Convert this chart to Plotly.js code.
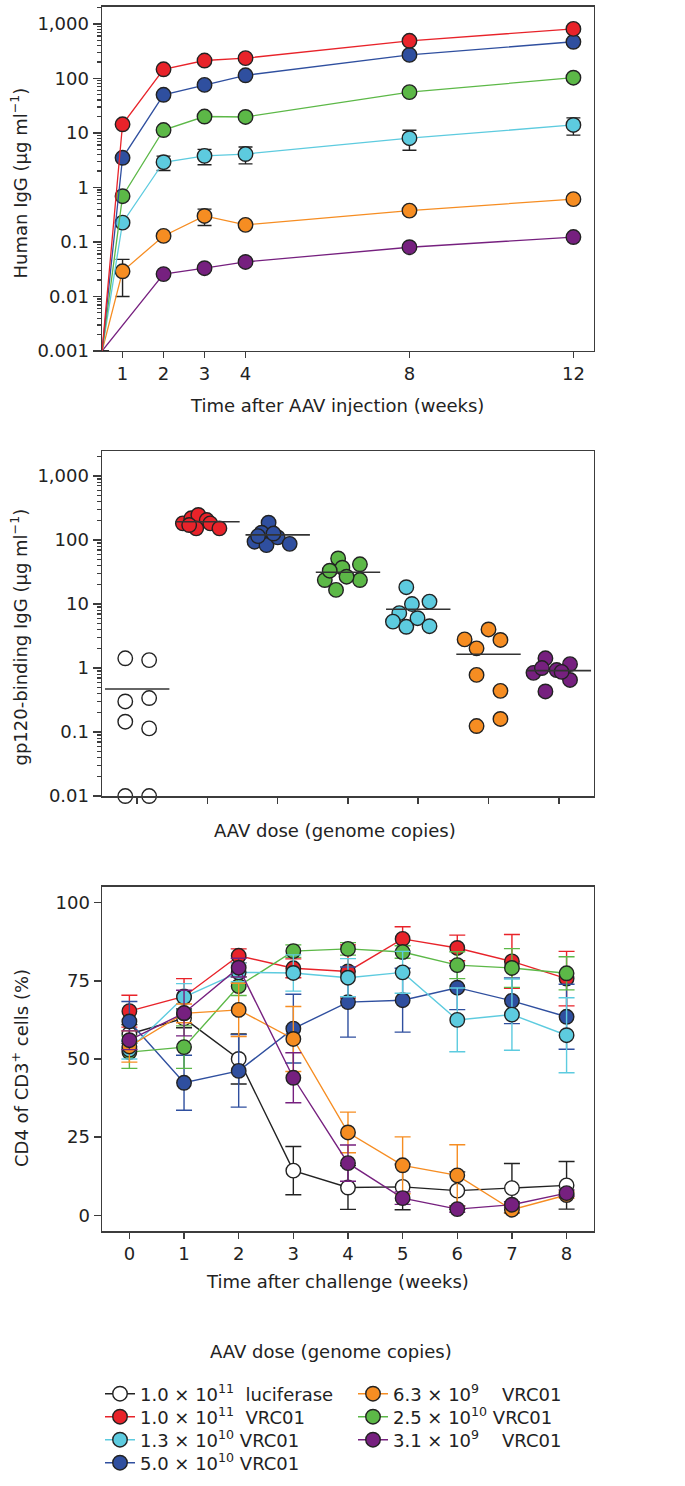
<!DOCTYPE html>
<html>
<head>
<meta charset="utf-8">
<script src="https://cdn.plot.ly/plotly-3.0.1.min.js"></script>
<style>
  body { margin: 0; background: #fff; }
  #chart { width: 685px; height: 1486px; }
</style>
</head>
<body>
<div id="chart"></div>
<script>

// Panel a: human IgG after AAV injection (weeks)
const igg_weeks = [0.5, 1, 2, 3, 4, 8, 12];
const igg_red = [0.001, 14.4, 147, 213, 235, 490, 809];
const igg_blue = [0.001, 3.5, 50, 76, 114, 270, 470];
const igg_green = [0.001, 0.69, 11.3, 20, 19.6, 56, 103];
const igg_cyan = [0.001, 0.226, 2.9, 3.8, 4.1, 8, 14];
const igg_orange = [0.001, 0.029, 0.129, 0.30, 0.206, 0.376, 0.61];
const igg_purple = [0.001, null, 0.0257, 0.033, 0.043, 0.080, 0.123];
const igg_cyan_err = [0, 0, 0.86, 1.2, 1.4, 3.2, 4.9];
const igg_orange_err = [0, 0.019, 0, 0.1, 0, 0, 0];

// Panel b: gp120-binding IgG per animal, with group means
const gp_groups = [0, 1, 2, 3, 4, 5, 6];
const gp_luc = [1.42, 1.33, 0.30, 0.34, 0.145, 0.114, 0.01, 0.01];
const gp_luc_jit = [-0.17, 0.17, -0.17, 0.17, -0.17, 0.17, -0.17, 0.17];
const gp_red = [182, 218, 246, 205, 152, 182, 152, 171];
const gp_red_jit = [-0.35, -0.23, -0.13, -0.01, -0.16, 0.04, 0.17, -0.26];
const gp_blue = [186, 130, 94, 83, 110, 87, 126, 115];
const gp_blue_jit = [-0.13, -0.23, -0.33, -0.16, 0.0, 0.17, -0.06, -0.28];
const gp_green = [23.7, 16.6, 51.5, 36.9, 41.7, 23.7, 26.7, 33.1];
const gp_green_jit = [-0.33, -0.17, -0.14, -0.08, 0.17, 0.17, -0.02, -0.26];
const gp_cyan = [18.3, 10, 10.9, 7.2, 5.3, 4.4, 6.0, 4.5];
const gp_cyan_jit = [-0.17, -0.09, 0.16, -0.27, -0.36, -0.17, -0.01, 0.16];
const gp_orange = [2.8, 2.03, 4.0, 2.74, 0.78, 0.44, 0.124, 0.16];
const gp_orange_jit = [-0.34, -0.17, 0, 0.17, -0.17, 0.17, -0.17, 0.17];
const gp_purple = [0.84, 1.42, 1.0, 0.93, 1.15, 0.65, 0.43, 0.87];
const gp_purple_jit = [-0.36, -0.19, -0.24, -0.03, 0.16, 0.16, -0.19, 0.04];
const gp_means = [0.47, 193, 120, 31.3, 8.3, 1.64, 0.91];

// Panel c: CD4 of CD3+ cells after challenge (weeks)
const cd4_weeks = [0, 1, 2, 3, 4, 5, 6, 7, 8];
const cd4_luc = [58, 63, 50, 14.3, 8.9, 9.1, 7.9, 8.7, 9.6];
const cd4_red = [65.3, 70, 83, 79, 78, 88.4, 85.5, 81.2, 75.7];
const cd4_cyan = [53, 69.8, 77.7, 77.5, 76, 77.7, 62.5, 64.2, 57.6];
const cd4_blue = [62, 42.4, 46.2, 59.7, 68.2, 68.8, 72.8, 68.6, 63.5];
const cd4_orange = [54, 64.6, 65.7, 56.4, 26.5, 16, 12.8, 1.8, 6.5];
const cd4_green = [52.2, 53.8, 73.3, 84.5, 85.2, 84.2, 80, 79.1, 77.4];
const cd4_purple = [56, 64.7, 79.2, 44, 16.7, 5.5, 2, 3.4, 7.1];
const cd4_luc_err = [3, 3, 8, 7.7, 7, 7.3, 6, 7.9, 7.6];
const cd4_red_err = [5.1, 5.7, 2.2, 3, 8.5, 3.9, 4.1, 8.6, 8.7];
const cd4_cyan_err = [3, 4.3, 3, 5.8, 6.1, 6.7, 10.2, 11.4, 12];
const cd4_blue_err = [6.4, 8.8, 11.6, 11, 11.2, 10.2, 7, 7.3, 10.4];
const cd4_orange_err = [5, 3, 8.5, 10.4, 6.5, 9.1, 9.8, 1, 1];
const cd4_green_err = [5.2, 6.8, 3, 2, 2, 2, 4.3, 6.2, 5.3];
const cd4_purple_err = [3, 7.3, 3, 8, 5.8, 2, 1, 1, 1];

// Legend labels
const lbl_luc = "1.0 \u00d7 10<sup>11</sup>\u00a0\u00a0luciferase";
const lbl_red = "1.0 \u00d7 10<sup>11</sup>\u00a0\u00a0VRC01";
const lbl_cyan = "1.3 \u00d7 10<sup>10</sup>\u00a0VRC01";
const lbl_blue = "5.0 \u00d7 10<sup>10</sup>\u00a0VRC01";
const lbl_orange = "6.3 \u00d7 10<sup>9</sup>\u00a0\u00a0\u00a0\u00a0VRC01";
const lbl_green = "2.5 \u00d7 10<sup>10</sup>\u00a0VRC01";
const lbl_purple = "3.1 \u00d7 10<sup>9</sup>\u00a0\u00a0\u00a0\u00a0VRC01";

// Colours
const c_red = "#e8232a";
const c_blue = "#2f4f9f";
const c_green = "#5cb847";
const c_cyan = "#5dcbdf";
const c_orange = "#f68d22";
const c_purple = "#76207f";
const c_black = "#222222";
const c_axis = "#3c3c3c";
const FONT = "DejaVu Sans";
const MSIZE = 14.5;

// ---------- panel a traces ----------
function iggTrace(y, col, err) {
  let sizes = y.map((v, i) => (i == 0 || v === null) ? 0 : MSIZE);
  let t = {
    x: igg_weeks, y: y,
    xaxis: "x", yaxis: "y",
    type: "scatter", mode: "lines+markers",
    connectgaps: true,
    line: {color: col, width: 1.3},
    marker: {color: col, size: sizes, opacity: 1, line: {color: c_black, width: 1.4}},
    showlegend: false,
    hoverinfo: "x+y"
  };
  if (err !== undefined) {
    t.error_y = {type: "data", array: err, color: c_black, thickness: 1.4, width: 7};
  }
  return t;
}

let traces_a = [
  iggTrace(igg_purple, c_purple),
  iggTrace(igg_orange, c_orange, igg_orange_err),
  iggTrace(igg_cyan, c_cyan, igg_cyan_err),
  iggTrace(igg_green, c_green),
  iggTrace(igg_blue, c_blue),
  iggTrace(igg_red, c_red)
];

// ---------- panel b traces ----------
function gpTrace(group, vals, jit, fill) {
  return {
    x: jit.map(j => gp_groups[group] + j),
    y: vals,
    xaxis: "x2", yaxis: "y2",
    type: "scatter", mode: "markers",
    cliponaxis: false,
    marker: {color: fill, size: MSIZE, opacity: 1, line: {color: c_black, width: 1.4}},
    showlegend: false,
    hoverinfo: "y"
  };
}

let traces_b = [
  gpTrace(0, gp_luc, gp_luc_jit, "#ffffff"),
  gpTrace(1, gp_red, gp_red_jit, c_red),
  gpTrace(2, gp_blue, gp_blue_jit, c_blue),
  gpTrace(3, gp_green, gp_green_jit, c_green),
  gpTrace(4, gp_cyan, gp_cyan_jit, c_cyan),
  gpTrace(5, gp_orange, gp_orange_jit, c_orange),
  gpTrace(6, gp_purple, gp_purple_jit, c_purple),
  {
    x: gp_groups, y: gp_means,
    xaxis: "x2", yaxis: "y2",
    type: "scatter", mode: "markers",
    cliponaxis: false,
    marker: {symbol: "line-ew", size: 46, color: "#333333", line: {color: "#333333", width: 1.6}},
    showlegend: false,
    hoverinfo: "y"
  }
];

// ---------- panel c traces ----------
// each series gets its own one-row legend so rows sit where the reference has them
function cd4Trace(y, err, col, fill, name, legend) {
  return {
    x: cd4_weeks, y: y,
    xaxis: "x3", yaxis: "y3",
    type: "scatter", mode: "lines+markers",
    name: name,
    legend: legend,
    line: {color: col, width: 1.4},
    marker: {color: fill, size: MSIZE, opacity: 1, line: {color: c_black, width: 1.4}},
    error_y: {type: "data", array: err, color: col, thickness: 1.4, width: 8},
    hoverinfo: "x+y"
  };
}

let traces_c = [
  cd4Trace(cd4_luc, cd4_luc_err, c_black, "#ffffff", lbl_luc, "legend"),
  cd4Trace(cd4_red, cd4_red_err, c_red, c_red, lbl_red, "legend2"),
  cd4Trace(cd4_blue, cd4_blue_err, c_blue, c_blue, lbl_blue, "legend4"),
  cd4Trace(cd4_green, cd4_green_err, c_green, c_green, lbl_green, "legend6"),
  cd4Trace(cd4_cyan, cd4_cyan_err, c_cyan, c_cyan, lbl_cyan, "legend3"),
  cd4Trace(cd4_orange, cd4_orange_err, c_orange, c_orange, lbl_orange, "legend5"),
  cd4Trace(cd4_purple, cd4_purple_err, c_purple, c_purple, lbl_purple, "legend7")
];

// ---------- axes ----------
let minor_log = [];
for (let e = -3; e <= 3; e++) {
  for (let m = 2; m <= 9; m++) minor_log.push(m * Math.pow(10, e));
}

let tickfont = {family: FONT, size: 18, color: "#222"};

function frameAxis(extra) {
  return Object.assign({
    showline: true, mirror: true,
    linecolor: c_axis, linewidth: 1.5,
    ticks: "outside", tickcolor: c_axis, tickwidth: 1.5,
    showgrid: false, zeroline: false,
    tickfont: tickfont,
    fixedrange: true
  }, extra);
}

function legendBox(px, py) {
  return {
    x: px / 685, xanchor: "left",
    y: 1 - py / 1486, yanchor: "middle",
    font: {family: FONT, size: 18, color: "#222"},
    bgcolor: "rgba(0,0,0,0)", borderwidth: 0,
    itemwidth: 30
  };
}

let xdom = [0.149, 0.867];

let layout = {
  width: 685, height: 1486,
  margin: {l: 0, r: 0, t: 0, b: 0},
  paper_bgcolor: "#ffffff", plot_bgcolor: "#ffffff",
  font: {family: FONT, size: 18, color: "#222"},

  xaxis: frameAxis({
    domain: xdom, anchor: "y",
    range: [0.5, 12.5],
    tickmode: "array", tickvals: [1, 2, 3, 4, 8, 12],
    ticklen: 6
  }),
  yaxis: frameAxis({
    domain: [0.7638, 0.9953], anchor: "x",
    type: "log", range: [-3, 3.31],
    tickmode: "array",
    tickvals: [0.001, 0.01, 0.1, 1, 10, 100, 1000],
    ticktext: ["0.001", "0.01", "0.1", "1", "10", "100", "1,000"],
    ticklen: 8,
    minor: {ticks: "outside", ticklen: 4, tickcolor: c_axis, tickwidth: 1.2, tickmode: "array", tickvals: minor_log}
  }),

  xaxis2: frameAxis({
    domain: xdom, anchor: "y2",
    range: [-0.5, 6.5],
    tickmode: "array", tickvals: gp_groups,
    showticklabels: false,
    ticklen: 6
  }),
  yaxis2: frameAxis({
    domain: [0.4643, 0.6965], anchor: "x2",
    type: "log", range: [-2, 3.39],
    tickmode: "array",
    tickvals: [0.01, 0.1, 1, 10, 100, 1000],
    ticktext: ["0.01", "0.1", "1", "10", "100", "1,000"],
    ticklen: 8,
    minor: {ticks: "outside", ticklen: 4, tickcolor: c_axis, tickwidth: 1.2, tickmode: "array", tickvals: minor_log.filter(v => v > 0.01)}
  }),

  xaxis3: frameAxis({
    domain: xdom, anchor: "y3",
    range: [-0.5, 8.5],
    tickmode: "array", tickvals: cd4_weeks,
    ticklen: 6
  }),
  yaxis3: frameAxis({
    domain: [0.1716, 0.4031], anchor: "x3",
    range: [-5, 105],
    tickmode: "array", tickvals: [0, 25, 50, 75, 100],
    ticklen: 7
  }),

  legend: legendBox(100, 1394),
  legend2: legendBox(100, 1417),
  legend3: legendBox(100, 1440),
  legend4: legendBox(100, 1463),
  legend5: legendBox(353, 1394),
  legend6: legendBox(353, 1417),
  legend7: legendBox(353, 1440),

  annotations: [
    {text: "Human IgG (\u03bcg ml<sup>\u22121</sup>)", x: 19.5 / 685, y: 1 - 183 / 1486, textangle: -90},
    {text: "Time after AAV injection (weeks)", x: 337 / 685, y: 1 - 405 / 1486},
    {text: "gp120-binding IgG (\u03bcg ml<sup>\u22121</sup>)", x: 19.5 / 685, y: 1 - 637 / 1486, textangle: -90},
    {text: "AAV dose (genome copies)", x: 335 / 685, y: 1 - 830 / 1486},
    {text: "CD4 of CD3<sup>+</sup> cells (%)", x: 20 / 685, y: 1 - 1068 / 1486, textangle: -90},
    {text: "Time after challenge (weeks)", x: 337 / 685, y: 1 - 1281 / 1486},
    {text: "AAV dose (genome copies)", x: 331 / 685, y: 1 - 1351 / 1486}
  ].map(a => Object.assign({
    xref: "paper", yref: "paper",
    xanchor: "center", yanchor: "middle",
    showarrow: false,
    font: {family: FONT, size: 18, color: "#222"}
  }, a))
};

let config = {displayModeBar: false, staticPlot: true};

Plotly.newPlot("chart", traces_a.concat(traces_b, traces_c), layout, config);

</script>
</body>
</html>
